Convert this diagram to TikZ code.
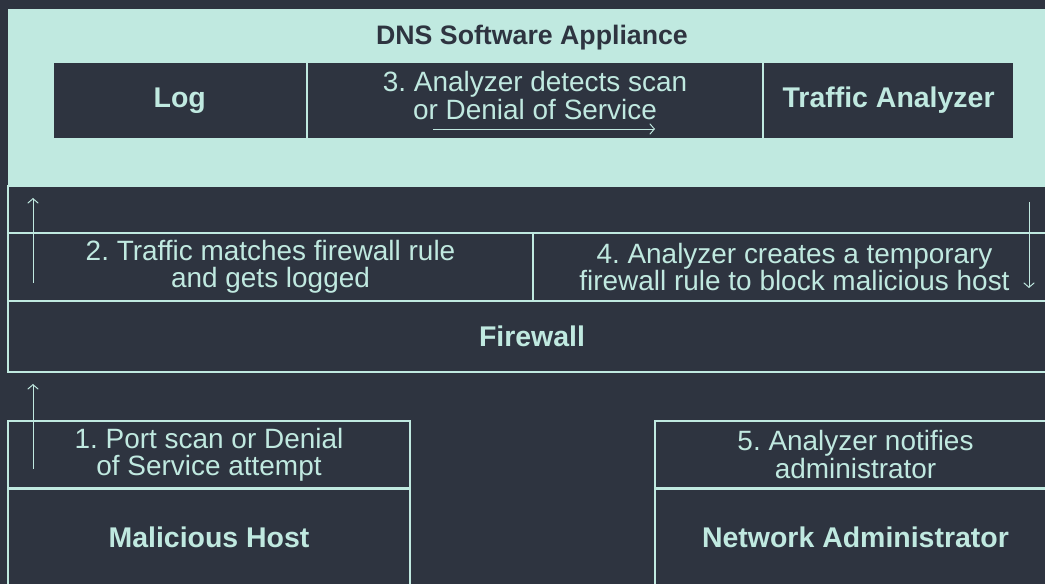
\documentclass[tikz,border=0pt]{standalone}
\usepackage{fontspec}
\setmainfont{Liberation Sans}
\usepackage[HTML]{xcolor}
\usetikzlibrary{positioning, arrows.meta}

\definecolor{night}{HTML}{2E3440}
\definecolor{mint}{HTML}{C0E9E0}

\newcommand{\stepfont}{\fontsize{15.9}{15.4}\selectfont}
\newcommand{\namefont}{\fontsize{16.2}{17}\selectfont\bfseries}
\newcommand{\titlefont}{\fontsize{15.2}{16}\selectfont\bfseries}
\frenchspacing

\tikzset{
  cell/.style={draw=mint, line width=0.75pt, fill=night, text=mint, inner sep=0pt, align=center, font=\stepfont},
  namecell/.style={cell, font=\namefont},
  flow/.style={draw=mint, line width=0.55pt, -{Straight Barb[length=2.6pt, width=6pt]}}
}

\begin{document}
\begin{tikzpicture}
% canvas
\useasboundingbox (0,0) rectangle (20.9,11.66);
\fill[night] (-0.2,-0.2) rectangle (21.1,11.86);
\begin{scope}
\clip (0,0) rectangle (20.9,11.66);

% DNS appliance with its three parts
\node[fill=mint, inner sep=0pt, minimum width=20.96cm, minimum height=3.54cm] (appliance) at (10.64,9.71) {};
\node[font=\titlefont, text=night, anchor=base] (title) at (10.64,10.76) {DNS Software Appliance};
\node[namecell, minimum width=5.07cm, minimum height=1.54cm] (log) at (3.595,9.65) {Log};
\node[cell, minimum width=9.09cm, minimum height=1.54cm, right=0pt of log] (detect) {};
\node[namecell, minimum width=5.0cm, minimum height=1.54cm, right=0pt of detect] (analyzer) {Traffic Analyzer};
\node[font=\stepfont, text=mint, align=center] (detectnote) at ([yshift=0.1cm]detect.center)
  {3. Analyzer detects scan\\or Denial of Service};
\coordinate (scanfrom) at (8.66,9.08);
\coordinate (scanto) at (13.1,9.08);
\draw[flow] (scanfrom) -- (scanto);

% Firewall rows
\node[cell, minimum width=20.96cm, minimum height=0.94cm] (inbound) at (10.64,7.47) {};
\node[cell, minimum width=10.5cm, minimum height=1.36cm] (matchrule) at (5.41,6.32)
  {2. Traffic matches firewall rule\\and gets logged};
\node[cell, minimum width=10.46cm, minimum height=1.36cm] (blockrule) at (15.89,6.32)
  {4. Analyzer creates a temporary\\firewall rule to block malicious host};
\node[namecell, minimum width=20.96cm, minimum height=1.42cm] (firewall) at (10.64,4.93) {Firewall};

% Hosts
\node[cell, minimum width=8.04cm, minimum height=1.34cm] (attempt) at (4.18,2.57)
  {1. Port scan or Denial\\of Service attempt};
\node[namecell, minimum width=8.04cm, minimum height=2.1cm, below=0pt of attempt] (host) {};
\node[font=\namefont, text=mint] (hostname) at (4.18,0.92) {Malicious Host};
\node[cell, minimum width=8.02cm, minimum height=1.34cm] (notify) at (17.11,2.57)
  {5. Analyzer notifies\\administrator};
\node[namecell, minimum width=8.02cm, minimum height=2.1cm, below=0pt of notify] (admin) {};
\node[font=\namefont, text=mint] (adminname) at (17.11,0.92) {Network Administrator};

% Flow arrows
\coordinate (scanstart) at (0.66,2.28);
\coordinate (scanin) at (0.66,3.98);
\draw[flow] (scanstart) -- (scanin);
\coordinate (logstart) at (0.66,6.0);
\coordinate (login) at (0.66,7.7);
\draw[flow] (logstart) -- (login);
\coordinate (rulestart) at (20.58,7.62);
\coordinate (ruleout) at (20.58,5.9);
\draw[flow] (rulestart) -- (ruleout);
\end{scope}
\end{tikzpicture}
\end{document}
